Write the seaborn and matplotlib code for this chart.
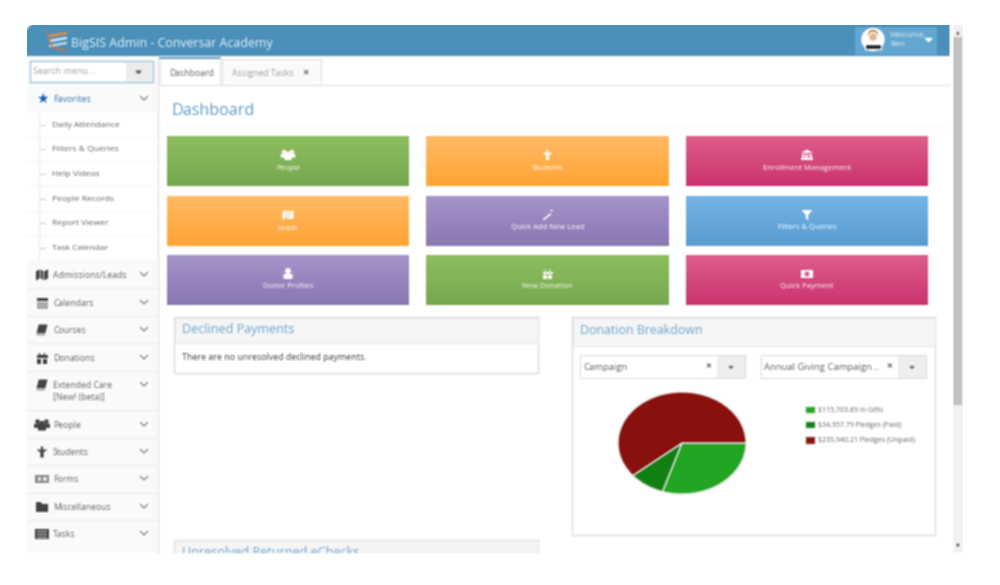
import numpy as np
import matplotlib
matplotlib.use('Agg')
import matplotlib.pyplot as plt
from matplotlib.colors import to_rgb
from matplotlib.patches import Rectangle, Circle, Polygon, FancyBboxPatch
import seaborn as sns

# donation data
donation_labels = ['$115,703.89 in Gifts', '$34,957.79 Pledges (Paid)', '$235,940.21 Pledges (Unpaid)']
donation_values = [115703.89, 34957.79, 235940.21]
donation_colors = ['#22a522', '#127f12', '#88110e']

# dashboard tiles, row by row
tile_labels = ['People', 'Students', 'Enrollment Management',
               'Leads', 'Quick Add New Lead', 'Filters & Queries',
               'Donor Profiles', 'New Donation', 'Quick Payment']
tile_icons = ['people', 'student', 'bank', 'map', 'wand', 'filter', 'person', 'gift', 'money']
tile_colors = ['green', 'orange', 'pink', 'orange', 'purple', 'blue', 'purple', 'green', 'pink']

# sidebar text
fav_items = ['Daily Attendance', 'Filters & Queries', 'Help Videos',
             'People Records', 'Report Viewer', 'Task Calendar']
menu_items = ['Admissions/Leads', 'Calendars', 'Courses', 'Donations', 'Extended Care',
              'People', 'Students', 'Forms', 'Miscellaneous', 'Tasks']
menu_icons = ['map', 'cal', 'book', 'gift', 'book', 'people', 'student', 'form', 'folder', 'list']

# layout
tile_x = [(167, 409), (426, 669), (686, 928)]
tile_y = [(136, 186), (196, 246), (255, 305)]
gradients = {'green': ('#8dbf60', '#76a84f'), 'orange': ('#ffbb66', '#ffa433'),
             'pink': ('#de5e8b', '#cb3370'), 'purple': ('#a594ca', '#8a78b1'),
             'blue': ('#75b4e7', '#5a9dd2')}
fav_y = [125, 149, 174, 199, 223, 248]
menu_y = [275, 303, 330, 358, 385, 425, 452, 479, 507, 534]
menu_sep = [288, 316, 343, 371, 410, 438, 465, 493, 520]

sns.set_theme(style='white')
plt.rcParams['font.family'] = ['Open Sans', 'DejaVu Sans']

fig = plt.figure(figsize=(10, 5.85), dpi=100, facecolor='white')
ax = fig.add_axes([0, 0, 1, 1])
ax.set_facecolor('white')
ax.axis('off')
ax.patch.set_visible(True)
ax.patch.set_facecolor('white')


def box(x0, y0, x1, y1, fc='white', ec='none', lw=0.8, z=1):
    ax.add_patch(Rectangle((x0, y0), x1 - x0, y1 - y0, fc=fc, ec=ec, lw=lw, zorder=z))


def label(x, y, s, size=6.3, color='#666666', ha='left', z=6, **kw):
    ax.text(x, y + 1, s, fontsize=size, color=color, ha=ha, va='center', zorder=z, **kw)


def chevron(x, y):
    ax.plot([x - 3.5, x, x + 3.5], [y - 1.5, y + 2, y - 1.5], color='#808080', lw=0.9, zorder=6)


def person(x, y, s, c):
    ax.add_patch(Circle((x, y - s * 0.3), s * 0.3, fc=c, ec='none', zorder=6))
    ax.add_patch(FancyBboxPatch((x - s * 0.4, y + s * 0.05), s * 0.8, s * 0.4, boxstyle='round,pad=0.5',
                                fc=c, ec='none', zorder=6))


def icon(kind, x, y, s, c, bg='white'):
    def poly(pts, fc=c):
        ax.add_patch(Polygon([(x + a * s, y + b * s) for a, b in pts], fc=fc, ec='none', zorder=6))

    if kind == 'person':
        person(x, y, s, c)
    elif kind == 'people':
        person(x - s * 0.4, y - s * 0.1, s * 0.7, c)
        person(x + s * 0.4, y - s * 0.1, s * 0.7, c)
        person(x, y + s * 0.1, s * 0.8, c)
    elif kind == 'student':
        poly([(-.1, -.5), (.1, -.5), (.1, -.2), (.4, -.25), (.4, -.1), (.15, 0), (.15, .5), (-.15, .5),
              (-.15, 0), (-.4, -.1), (-.4, -.25), (-.1, -.2)])
    elif kind == 'map':
        poly([(-.55, -.35), (-.2, -.5), (-.2, .3), (-.55, .5)])
        poly([(-.12, -.5), (.12, -.35), (.12, .45), (-.12, .3)])
        poly([(.2, -.35), (.55, -.5), (.55, .3), (.2, .5)])
    elif kind == 'bank':
        poly([(0, -.55), (.6, -.2), (-.6, -.2)])
        for dx in (-.4, -.13, .13, .4):
            poly([(dx - .08, -.15), (dx + .08, -.15), (dx + .08, .3), (dx - .08, .3)])
        poly([(-.6, .32), (.6, .32), (.6, .5), (-.6, .5)])
    elif kind == 'wand':
        poly([(-.5, .45), (.3, -.2), (.42, -.08), (-.38, .55)])
        poly([(.2, -.5), (.55, -.5), (.55, -.38), (.2, -.38)])
    elif kind == 'filter':
        poly([(-.55, -.5), (.55, -.5), (.12, 0), (.12, .55), (-.12, .35), (-.12, 0)])
    elif kind == 'gift':
        poly([(-.5, -.25), (.5, -.25), (.5, .0), (-.5, .0)])
        poly([(-.42, .05), (-.07, .05), (-.07, .5), (-.42, .5)])
        poly([(.07, .05), (.42, .05), (.42, .5), (.07, .5)])
        poly([(-.3, -.5), (-.05, -.28), (.05, -.28), (.3, -.5), (.3, -.3), (-.3, -.3)])
    elif kind == 'money':
        poly([(-.6, -.4), (.6, -.4), (.6, .4), (-.6, .4)])
        ax.add_patch(Circle((x, y), s * 0.25, fc=bg, ec='none', zorder=7))
    elif kind == 'cal':
        poly([(-.5, -.45), (.5, -.45), (.5, -.15), (-.5, -.15)])
        poly([(-.5, -.1), (.5, -.1), (.5, .5), (-.5, .5)], fc='#aaaaaa')
    elif kind == 'book':
        poly([(-.3, -.5), (.5, -.5), (.3, .3), (-.5, .3)])
        poly([(-.5, .35), (.3, .35), (.25, .5), (-.5, .5)], fc='#aaaaaa')
    elif kind == 'form':
        poly([(-.6, -.4), (.6, -.4), (.6, .4), (-.6, .4)], fc='#8a8a8a')
        poly([(-.4, -.2), (-.05, -.2), (-.05, .2), (-.4, .2)], fc='#dddddd')
        poly([(.1, -.15), (.45, -.15), (.45, .15), (.1, .15)], fc='#dddddd')
    elif kind == 'folder':
        poly([(-.55, -.45), (-.1, -.45), (.0, -.28), (.55, -.28), (.55, .45), (-.55, .45)])
    elif kind == 'list':
        poly([(-.6, -.45), (.6, -.45), (.6, .45), (-.6, .45)])
        for dy in (-.2, .05, .28):
            poly([(-.45, dy - .05), (.45, dy - .05), (.45, dy + .05), (-.45, dy + .05)], fc='#cccccc')


# window frame and scrollbar
box(27, 25, 950, 553, fc='white')
box(953, 25, 963, 553, fc='#f1f1f1')
box(953, 37, 962, 405, fc='#c1c1c1', z=2)
label(958, 31, '▲', size=3.5, color='#666666', ha='center')
label(958, 544, '▼', size=3.5, color='#555555', ha='center')

# header
ax.add_patch(FancyBboxPatch((29, 27), 919, 27, boxstyle='round,pad=2,rounding_size=7', fc='#4a90ba', ec='none', zorder=2))
box(27, 36, 950, 56, fc='#4a90ba', z=2)
box(930, 25, 950, 36, fc='#4a90ba', z=2)
for i, c in enumerate(['#e98b45', '#d8e6f0', '#bcd6e8']):
    ax.plot([50, 66], [36 + i * 5, 33 + i * 5], color=c, lw=1.8, zorder=4)
ax.plot([47, 52, 66], [31, 47, 51], color='#e0733a', lw=1, zorder=4)
label(71, 42, 'BigSIS Admin - Conversar Academy', size=8.9, color='#e8f3fa')
box(855, 27, 937, 55, fc='#62a6d2', z=3)
ax.add_patch(Circle((873, 39.5), 11, fc='white', zorder=4))
ax.add_patch(Circle((873, 35), 6, fc='#b98a50', zorder=5))
ax.add_patch(Circle((873, 37), 4.5, fc='#e3b68c', zorder=5))
ax.add_patch(Rectangle((865, 44), 16, 4.5, fc='#222222', zorder=5))
label(890, 34, 'Welcome,', size=5.8, color='#e6f1f8')
label(890, 44, 'Ben', size=5.8, color='#e6f1f8')
ax.fill([925.5, 932, 928.75], [38.5, 38.5, 41.5], color='white', zorder=6)

# sidebar
box(27, 56, 157, 553, fc='#fafafa', z=1)
ax.plot([157.5, 157.5], [56, 553], color='#e3e3e3', lw=1, zorder=2)
box(30, 61, 153, 82, fc='white', ec='#9cc4df', lw=1, z=3)
box(126, 62, 152.5, 81.5, fc='#ececec', z=3)
label(33, 71, 'Search menu...', size=6.5, color='#a3a3a3')
ax.fill([136, 141, 138.5], [71, 71, 73.5], color='#666666', zorder=6)
label(53, 98.5, 'Favorites', size=6.4, color='#3a75b5')
label(42, 98, '★', size=10, color='#1a5fb0', ha='center', family='DejaVu Sans')
chevron(144, 98)
box(27, 112, 157, 261, fc='white', z=1)
ax.plot([39, 39], [112, 260], color='#bcd4e6', lw=0.8, ls=':', zorder=3)
for y, item in zip(fav_y, fav_items):
    ax.plot([40, 45], [y, y], color='#bcd4e6', lw=0.8, zorder=3)
    ax.plot([27, 157], [y + 12, y + 12], color='#e6e6e6', lw=0.6, ls=':', zorder=3)
    label(52, y - 0.5, item, size=6.1)
for y, item, kind in zip(menu_y, menu_items, menu_icons):
    icon(kind, 42, y, 11, '#444444')
    label(53, y - 0.5, item, size=6.2)
    chevron(144, y - 1)
label(53, 396.5, '[New! (beta)]', size=6.2)
for y in menu_sep:
    ax.plot([27, 157], [y, y], color='#ececec', lw=0.8, zorder=3)

# tabs
box(160, 58, 220, 85, fc='white', ec='#e2e2e2', lw=0.8, z=2)
ax.plot([160, 220], [58, 58], color='#4a90ba', lw=1.2, zorder=4)
ax.plot([220, 950], [85, 85], color='#e6e6e6', lw=0.8, zorder=1)
label(169, 72, 'Dashboard', size=6.2, color='#666666')
box(222, 59, 321, 85, fc='#fafafa', ec='#e6e6e6', lw=0.8, z=2)
label(232, 72, 'Assigned Tasks', size=6.2, color='#a0a0a0')
label(306, 72, '✖', size=5.5, color='#8a8a8a', ha='center', family='DejaVu Sans')

# page title
label(171, 110, 'Dashboard', size=11.6, color='#5f9fcd')
ax.plot([167, 945], [126, 126], color='#e8e8e8', lw=0.8, ls=':', zorder=1)

# tiles
cols = len(tile_x)
for i, text in enumerate(tile_labels):
    x0, x1 = tile_x[i % cols]
    y0, y1 = tile_y[i // cols]
    top, bottom = [np.array(to_rgb(c)) for c in gradients[tile_colors[i]]]
    ramp = np.linspace(0, 1, 64)[:, None, None]
    ax.imshow(top + (bottom - top) * ramp, extent=(x0, x1, y1, y0), aspect='auto', zorder=2,
              interpolation='bilinear')
    xc = (x0 + x1) / 2
    icon(tile_icons[i], xc, y0 + 19, 10, 'white', bg=gradients[tile_colors[i]][0])
    label(xc, y0 + 31, text, size=5.5, color='white', ha='center')

# declined payments panel
box(174, 317, 538, 373, fc='white', ec='#dedede', lw=1)
box(174.5, 317.5, 537.5, 343, fc='#f5f5f5', ec='#e6e6e6', lw=0.6)
label(182, 329, 'Declined Payments', size=9, color='#6ea6d0')
label(182, 357, 'There are no unresolved declined payments.', size=6.4, color='#444444')

# returned echecks panel, cut off by the window
box(174, 540, 538, 553, fc='#f5f5f5', ec='#e3e3e3', lw=1, z=1)
label(182, 552, 'Unresolved Returned eChecks', size=9, color='#6ea6d0')
box(160, 553, 950, 575, fc='white', z=7)

# donation panel
box(572, 317, 935, 535, fc='white', ec='#dedede', lw=1)
box(572.5, 317.5, 934.5, 346, fc='#f5f5f5', ec='#e6e6e6', lw=0.6)
label(580, 329, 'Donation Breakdown', size=8.9, color='#6ea6d0')
for x0, text in zip([580, 761], ['Campaign', 'Annual Giving Campaign...']):
    box(x0, 355, x0 + 165, 378, fc='white', ec='#e0e0e0', lw=0.8, z=2)
    box(x0 + 137, 355.5, x0 + 165, 377.5, fc='#eeeeee', z=3)
    label(x0 + 3, 366.5, text, size=6.8, color='#666666')
    label(x0 + 128, 365, '✖', size=5, color='#777777', ha='center', family='DejaVu Sans')
    ax.fill([x0 + 149, x0 + 153, x0 + 151], [366.5, 366.5, 368.5], color='#777777', zorder=6)

# pie chart, stretched like in the screenshot
pie_ax = ax.inset_axes([0.618, 1 - 494 / 585, 0.128, 102 / 585], transform=ax.transAxes)
pie_ax.set_zorder(5)
wedges, _ = pie_ax.pie(donation_values, colors=sns.color_palette(donation_colors), startangle=0,
                       counterclock=False, wedgeprops={'edgecolor': '#e8e8e8', 'linewidth': 1})
pie_ax.set_xlim(-1.0, 1.0)
pie_ax.set_ylim(-1.0, 1.0)
pie_ax.set_aspect('auto')
pie_ax.legend(wedges, donation_labels, loc='upper left', bbox_to_anchor=(0.805, 1 - 406 / 585),
              bbox_transform=ax.transAxes, frameon=False, fontsize=5, borderpad=0, borderaxespad=0,
              handlelength=1.5, handleheight=1.2, handletextpad=0.3, labelspacing=1.05,
              labelcolor='#666666')

ax.set_xlim(0, 1000)
ax.set_ylim(585, 0)


# the reference is a soft, upscaled screenshot
def soften(img, dpi):
    a, b = 0.3, 0.4
    out = np.pad(img, ((1, 1), (0, 0), (0, 0)), mode='edge')
    out = a * out[:-2] + b * out[1:-1] + a * out[2:]
    out = np.pad(out, ((0, 0), (1, 1), (0, 0)), mode='edge')
    out = a * out[:, :-2] + b * out[:, 1:-1] + a * out[:, 2:]
    return out, 0, 0


ax.set_agg_filter(soften)
fig.savefig('out.png', dpi=100, facecolor='white')
